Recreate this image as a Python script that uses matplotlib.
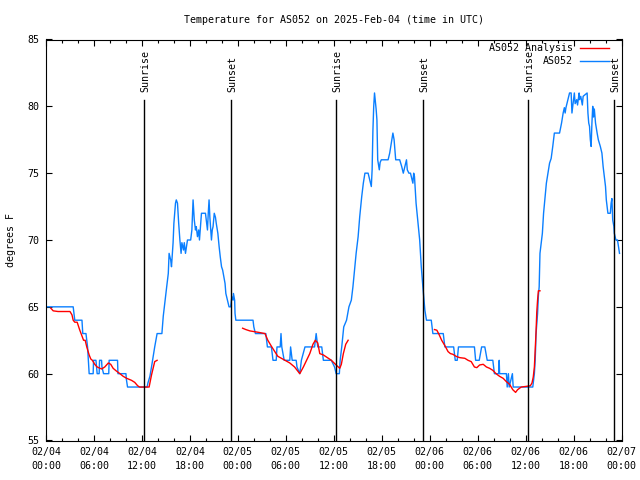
import numpy as np
import matplotlib
matplotlib.use("Agg")
import matplotlib.pyplot as plt

plt.rcParams['font.family'] = ['DejaVu Sans Mono']
plt.rcParams['font.size'] = 7.2

# hours since 2025-02-04 00:00 UTC
tick_hours = [0, 6, 12, 18, 24, 30, 36, 42, 48, 54, 60, 66, 72]
tick_labels = ["02/04\n00:00", "02/04\n06:00", "02/04\n12:00", "02/04\n18:00",
               "02/05\n00:00", "02/05\n06:00", "02/05\n12:00", "02/05\n18:00",
               "02/06\n00:00", "02/06\n06:00", "02/06\n12:00", "02/06\n18:00",
               "02/07\n00:00"]

sunrise_hours = [12.25, 36.25, 60.3]
sunset_hours = [23.2, 47.15, 71.05]

# observed temperature (AS052)
obs_hours = [0.0, 3.4, 3.6, 4.5, 4.6, 5.0, 5.2, 5.4, 5.9, 5.95, 6.25, 6.4, 6.65, 6.7, 6.95,
             7.0, 7.2, 7.85, 7.9, 8.95, 9.0, 10.0, 10.05, 10.2, 12.65, 12.75, 13.0, 13.2,
             13.4, 13.6, 13.9, 14.5, 14.67, 14.9, 15.1, 15.3, 15.4, 15.6, 15.7, 15.9, 16.0,
             16.2, 16.3, 16.45, 16.6, 16.75, 16.9, 17.0, 17.2, 17.3, 17.45, 17.7, 18.1,
             18.25, 18.4, 18.55, 18.7, 18.8, 18.95, 19.1, 19.2, 19.35, 19.45, 19.95, 20.1,
             20.2, 20.3, 20.4, 20.5, 20.7, 20.8, 20.9, 21.05, 21.2, 21.3, 21.5, 21.66, 21.8,
             21.96, 22.1, 22.25, 22.4, 22.5, 22.7, 22.9, 23.1, 23.25, 23.4, 23.45, 23.6,
             23.65, 23.75, 25.9, 26.0, 26.2, 27.5, 27.7, 28.2, 28.4, 28.8, 28.9, 29.3, 29.4,
             29.5, 29.8, 30.5, 30.6, 30.8, 31.3, 31.4, 31.75, 31.95, 32.4, 33.6, 33.8, 34.0,
             34.5, 34.7, 35.7, 36.1, 36.3, 36.7, 36.8, 37.0, 37.25, 37.6, 37.9, 38.2, 38.4,
             38.6, 38.8, 39.05, 39.25, 39.5, 39.7, 39.9, 40.3, 40.5, 40.7, 40.8, 40.9, 41.0,
             41.1, 41.3, 41.4, 41.5, 41.7, 41.8, 41.95, 42.8, 43.0, 43.2, 43.4, 43.55, 43.75,
             44.25, 44.5, 44.7, 44.9, 45.1, 45.2, 45.4, 45.6, 45.8, 45.9, 46.0, 46.1, 46.3,
             46.5, 46.75, 46.95, 47.15, 47.4, 47.6, 48.2, 48.4, 49.7, 49.9, 51.0, 51.2,
             51.45, 51.6, 53.6, 53.75, 54.2, 54.5, 54.9, 55.2, 55.9, 56.1, 56.65, 56.7,
             56.75, 57.6, 57.7, 57.85, 57.95, 58.35, 58.45, 60.9, 61.1, 61.2, 61.25, 61.3,
             61.5, 61.6, 61.7, 61.8, 61.95, 62.1, 62.25, 62.4, 62.6, 62.8, 63.0, 63.2, 63.4,
             63.6, 64.25, 64.5, 64.7, 64.85, 64.95, 65.05, 65.3, 65.5, 65.7, 65.8, 66.0,
             66.1, 66.2, 66.4, 66.5, 66.7, 66.75, 66.9, 67.1, 67.2, 67.7, 67.8, 67.9, 68.0,
             68.1, 68.2, 68.3, 68.4, 68.5, 68.6, 68.75, 68.95, 69.1, 69.35, 69.55, 69.7,
             69.85, 70.0, 70.1, 70.25, 70.3, 70.6, 70.7, 70.8, 70.9, 71.05, 71.1, 71.3,
             71.5, 71.75]
obs_temp = [65, 65, 64, 64, 63, 63, 62, 60, 60, 61, 61, 60, 60, 61, 61,
            60.5, 60, 60, 61, 61, 60, 60, 59.6, 59, 59, 59.3, 59.8, 60.5,
            61.25, 62, 63, 63, 64.3, 65.5, 66.5, 67.5, 69.0, 68.5, 68, 69.8, 71.25,
            72.75, 73, 72.75, 71.25, 70, 69, 69.8, 69.25, 69.8, 69, 70, 70,
            70.75, 73, 71.5, 70.75, 71, 70.25, 70.75, 70, 71.25, 72, 72, 71.25,
            70.75, 72, 73, 71.7, 70, 70.75, 71, 72, 71.7, 71.25, 70.5, 69.5, 68.75,
            68, 67.75, 67.25, 66.75, 66, 65.5, 65, 65, 65.75, 65.5, 66, 65.5,
            64.5, 64, 64, 63.5, 63, 63, 62, 62, 61, 61, 62, 62, 63,
            62, 61, 61, 62, 61, 61, 60.5, 60, 61, 62, 62, 63, 62,
            62, 61, 61, 60.5, 60, 60, 61, 62, 63.5, 64, 65, 65.5, 66.5,
            67.75, 69, 70.25, 71.75, 73.25, 74.25, 75, 75, 74.5, 74, 75.25, 78.2, 80,
            81, 79.8, 79, 76, 75.25, 75.8, 76, 76, 76.5, 77.25, 78, 77.5, 76,
            76, 75.5, 75, 75.5, 76, 75.25, 75, 75, 74.5, 74.25, 75, 74.75, 72.75,
            71.5, 70, 68, 66.5, 64.75, 64, 64, 63, 63, 62, 62, 61,
            61, 62, 62, 61, 61, 62, 62, 61, 61, 60, 60, 61,
            60, 60, 59, 60, 59, 60, 59, 59, 60, 61, 61.8, 62.9,
            64.5, 65.8, 66.5, 69, 69.75, 70.5, 72, 73, 74.25, 75, 75.75, 76.1, 77,
            78, 78, 78.75, 79.5, 79.9, 79.5, 79.9, 80.5, 81, 81, 79.5, 80.5,
            81, 80.2, 80.5, 80.1, 81, 80.5, 80.75, 80.1, 80.75, 81, 79.5, 78.75, 78.5,
            77.5, 77, 78.75, 80, 79.2, 79.8, 78.75, 78, 77.5, 77, 76.5, 75.5,
            74.75, 74, 73, 72.25, 72, 72, 72.75, 73.1, 71.5, 71, 70.5, 70,
            70, 69]

# analysis temperature (AS052 Analysis), nan marks the gaps
ana_hours = [0.6, 0.9, 1.5, 3.0, 3.25, 3.4, 3.6, 3.9, 4.2, 4.45, 4.7, 4.9, 5.1, 5.4, 5.6,
             5.8, 6.1, 6.4, 6.96, 7.35, 7.8, 8.1, 8.4, 8.8, 9.25, 9.66, 10.1, 10.7, 11.1,
             11.46, 11.7, 12.9, 13.0, 13.2, 13.4, 13.6, 13.9, np.nan,
             24.6, 25.0, 25.5, 26.5, 27.4, 27.75, 28.25, 29.0, 29.9, 30.5, 31.1, 31.75,
             32.2, 32.6, 33.0, 33.4, 33.7, 34.0, 34.25, 34.7, 35.7, 36.3, 36.75, 36.95,
             37.2, 37.5, 37.8, np.nan,
             48.6, 48.9, 49.2, 49.5, 49.9, 50.3, 50.6, 50.9, 51.3, 51.75, 52.4, 52.8, 53.2,
             53.6, 53.9, 54.25, 54.7, 55.1, 55.5, 55.9, 56.3, 56.75, 57.2, 57.6, 58.0,
             58.4, 58.75, 59.0, 59.45, 60.1, 60.6, 60.8, 60.96, 61.1, 61.2, 61.3, 61.4,
             61.5, 61.6, 61.8]
ana_temp = [64.9, 64.7, 64.65, 64.65, 64.4, 64, 63.85, 63.85, 63.3, 62.9, 62.5, 62.5, 62, 61.4, 61.1,
            61.0, 60.7, 60.5, 60.35, 60.5, 60.8, 60.7, 60.4, 60.2, 60, 59.8, 59.65, 59.5, 59.35,
            59.1, 59, 59, 59.3, 59.9, 60.4, 60.9, 61.0, np.nan,
            63.4, 63.3, 63.2, 63.1, 63.0, 62.5, 62, 61.3, 61, 60.8, 60.5, 60,
            60.5, 61, 61.5, 62.2, 62.5, 62.3, 61.5, 61.4, 61, 60.65, 60.4, 60.7,
            61.5, 62.2, 62.5, np.nan,
            63.3, 63.25, 62.9, 62.5, 62.1, 61.65, 61.5, 61.45, 61.3, 61.2, 61.15, 61.0, 60.9,
            60.5, 60.45, 60.65, 60.7, 60.5, 60.4, 60.25, 60, 59.8, 59.65, 59.4, 59.2,
            58.8, 58.6, 58.8, 59.0, 59.05, 59.1, 59.3, 59.75, 60.5, 61.75, 63, 64.6,
            65.5, 66.2, 66.2]

fig = plt.figure(figsize=(6.4, 4.8), dpi=100)
ax = fig.add_axes([46/640, 1 - 440.5/480, 575.5/640, 401/480])

ax.plot(obs_hours, obs_temp, color='#0a7fff', lw=1.0, label='AS052', zorder=2)
ax.plot(ana_hours, ana_temp, color='#ff0000', lw=1.0, label='AS052 Analysis', zorder=3)

line_top = 0.85
for h in sunrise_hours:
    ax.axvline(h, ymin=0, ymax=line_top, color='black', lw=1.0, zorder=4)
    ax.text(h + 0.15, 0.868, 'Sunrise', rotation=90, ha='center', va='bottom',
            transform=ax.get_xaxis_transform())
for h in sunset_hours:
    ax.axvline(h, ymin=0, ymax=line_top, color='black', lw=1.0, zorder=4)
    ax.text(h + 0.15, 0.868, 'Sunset', rotation=90, ha='center', va='bottom',
            transform=ax.get_xaxis_transform(), clip_on=False)

ax.set_xlim(0, 72)
ax.set_ylim(55, 85)
ax.set_xticks(tick_hours)
ax.set_xticklabels(tick_labels, linespacing=1.4)
ax.set_xticks(np.arange(0, 73, 2), minor=True)
ax.set_yticks(np.arange(55, 86, 5))

ax.tick_params(which='both', direction='in', top=True, right=True, width=0.8)
ax.tick_params(which='major', length=4, pad=5)
ax.tick_params(which='minor', length=2.5)
for sp in ax.spines.values():
    sp.set_linewidth(0.8)

ax.set_ylabel('degrees F')
ax.yaxis.set_label_coords(-(46 - 16) / 575.5, 0.5)

# legend in gnuplot style: text first, sample line after
h_obs, l_obs = ax.get_legend_handles_labels()
leg = ax.legend(h_obs[::-1], l_obs[::-1], loc='upper right', markerfirst=False,
                frameon=False, handlelength=2.9, handletextpad=0.7,
                labelspacing=0.3, borderpad=0, borderaxespad=0,
                bbox_to_anchor=(609/640, 1 - 43/480), bbox_transform=fig.transFigure)

fig.text(334/640, 1 - 20/480, 'Temperature for AS052 on 2025-Feb-04 (time in UTC)',
         ha='center', va='center')

fig.savefig('out.png', dpi=100)
